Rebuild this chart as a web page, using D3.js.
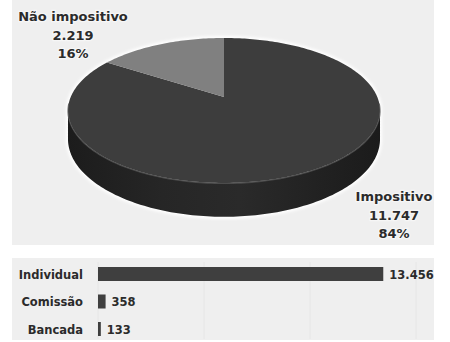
<!DOCTYPE html>
<html>
<head>
<meta charset="utf-8">
<script src="https://cdn.jsdelivr.net/npm/d3@7"></script>
<style>
html,body{margin:0;padding:0;background:#fff;}
svg{display:block;}
text{font-family:"DejaVu Sans",sans-serif;font-weight:bold;fill:#2b2b2b;}
</style>
</head>
<body>
<script>
// ---- data ----
const pieCategories = ["Impositivo", "Não impositivo"];
const pieValues = [11747, 2219];
const barCategories = ["Individual", "Comissão", "Bancada"];
const barValues = [13456, 358, 133];
const barTicks = [0, 5000, 10000, 15000];

const W = 450, H = 342;
const loc = d3.formatLocale({decimal: ",", thousands: ".", grouping: [3], currency: ["", ""]});
const fmt = loc.format(",d");

const svg = d3.select("body").append("svg").attr("width", W).attr("height", H);
const defs = svg.append("defs");
const blur = defs.append("filter").attr("id", "halo").attr("x", "-10%").attr("y", "-10%").attr("width", "120%").attr("height", "130%");
blur.append("feGaussianBlur").attr("stdDeviation", 1.6);
const sideGrad = defs.append("linearGradient").attr("id", "side").attr("x1", 0).attr("x2", 1).attr("y1", 0).attr("y2", 0);
[["0%", "#1c1c1c"], ["30%", "#262626"], ["55%", "#2a2a2a"], ["100%", "#1b1b1b"]].forEach(s =>
  sideGrad.append("stop").attr("offset", s[0]).attr("stop-color", s[1]));

// ---- panels ----
svg.append("rect").attr("x", 12).attr("y", 0).attr("width", 422).attr("height", 245).attr("fill", "#efefef");
svg.append("rect").attr("x", 12).attr("y", 258).attr("width", 422).attr("height", 82).attr("fill", "#efefef");

// ---- 3D pie with mild perspective ----
const cx = 224, cy = 97, rx = 153.3, ry = 70, depth = 27.5, persp = 0.186;
const arcs = d3.pie().sort(null).value(d => d)(pieValues);
const ept = (a, down = 0) => {
  const k = 1 / (1 + persp * Math.cos(a));
  return [cx + rx * Math.sin(a) * k, cy - ry * Math.cos(a) * k + down * depth * k];
};
const samples = (a0, a1) => { const n = Math.max(2, Math.ceil((a1 - a0) / 0.02)); return d3.range(n + 1).map(i => a0 + (a1 - a0) * i / n); };
const line = d3.line();
const topColors = ["#3d3d3d", "#808080"];
const aL = Math.acos(-persp), aR = 2 * Math.PI - aL; // silhouette tangent angles

const pieG = svg.append("g");
// halo / silhouette
const frontS = samples(aL, aR);
const sil = samples(-(Math.PI * 2 - aR), aL).map(a => ept(a)).concat(frontS.map(a => ept(a, 1)));
pieG.append("path").attr("d", line(sil) + "Z").attr("fill", "none").attr("stroke", "#ffffff").attr("stroke-width", 4).attr("filter", "url(#halo)");

// side walls (front part)
arcs.forEach((d, i) => {
  const a0 = Math.max(d.startAngle, aL), a1 = Math.min(d.endAngle, aR);
  if (a1 <= a0) return;
  const s = samples(a0, a1);
  const pts = s.map(a => ept(a)).concat(s.slice().reverse().map(a => ept(a, 1)));
  pieG.append("path").attr("d", line(pts) + "Z").attr("fill", "url(#side)");
});
// top faces
arcs.forEach((d, i) => {
  const pts = [[cx, cy]].concat(samples(d.startAngle, d.endAngle).map(a => ept(a)));
  pieG.append("path").attr("d", line(pts) + "Z").attr("fill", topColors[i]);
});
// rim highlight on front edge
const rim = samples(aL - 0.1, aR + 0.1).map(a => { const p = ept(a); return [p[0], p[1] + 0.5]; });
pieG.append("path").attr("d", line(rim)).attr("fill", "none").attr("stroke", "#555555").attr("stroke-width", 1.2).attr("opacity", 0.8);

// pie labels
const total = d3.sum(pieValues);
const labelPos = [[394, 201], [73, 21]];
arcs.forEach((d, i) => {
  const t = svg.append("text").attr("text-anchor", "middle").attr("font-size", 13)
    .attr("stroke", "#f6f6f6").attr("stroke-width", 2.5).attr("paint-order", "stroke");
  [pieCategories[i], fmt(pieValues[i]), Math.round(pieValues[i] / total * 100) + "%"].forEach((s, k) =>
    t.append("tspan").attr("x", labelPos[i][0]).attr("y", labelPos[i][1] + k * 18.7).text(s));
});

// ---- bars ----
const x = d3.scaleLinear().domain([0, 15000]).range([98, 416]);
const y = d3.scaleBand().domain(barCategories).range([260.25, 342.75]);
const barH = 14;
svg.append("g").selectAll("line").data(barTicks).join("line")
  .attr("x1", d => x(d)).attr("x2", d => x(d)).attr("y1", 262).attr("y2", 339)
  .attr("stroke", "#e6e6e6").attr("stroke-width", 1);
svg.append("g").selectAll("rect").data(barValues).join("rect")
  .attr("x", x(0)).attr("y", (d, i) => y(barCategories[i]) + (y.bandwidth() - barH) / 2)
  .attr("width", d => x(d) - x(0)).attr("height", barH).attr("fill", "#3f3f3f");
svg.append("g").selectAll("text").data(barCategories).join("text")
  .attr("x", x(0) - 15).attr("y", d => y(d) + y.bandwidth() / 2 + 4.5)
  .attr("text-anchor", "end").attr("font-size", 11.5).text(d => d);
svg.append("g").selectAll("text").data(barValues).join("text")
  .attr("x", d => x(d) + 6).attr("y", (d, i) => y(barCategories[i]) + y.bandwidth() / 2 + 4.5)
  .attr("font-size", 11.5).text(d => fmt(d));
</script>
</body>
</html>
